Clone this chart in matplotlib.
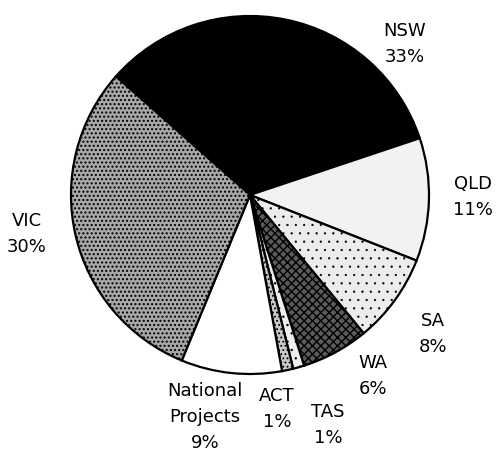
import matplotlib
matplotlib.use("Agg")
from matplotlib import pyplot as plt

# share of funding by state (%), clockwise from the top-left
states = ["NSW", "QLD", "SA", "WA", "TAS", "ACT", "National\nProjects", "VIC"]
shares = [33, 11, 8, 6, 1, 1, 9, 30]

# scanned-print look: fill grey + hatch per wedge
fills = ["black", "#f2f2f2", "#ececec", "#5a5a5a", "#eeeeee", "#c8c8c8", "white", "#a8a8a8"]
hatches = [None, None, "..", "xxxx", "..", "....", None, "...."]
hatch_lw = [1.0, 1.0, 0.4, 1.0, 0.5, 0.8, 1.0, 1.0]

# label anchor points in pixel coords (x from left, y from top)
label_xy = [(405, 44), (473, 197), (433, 334), (373, 376),
            (328, 425), (277, 409), (205, 417), (27, 234)]

W, H = 498, 452
plt.rcParams["hatch.linewidth"] = 1.0
plt.rcParams["hatch.color"] = "black"

fig = plt.figure(figsize=(W / 100, H / 100), dpi=100)
ax = fig.add_axes([0, 0, 1, 1])

wedges, _ = ax.pie(shares, startangle=138.5, counterclock=False,
                   center=(250, H - 196), radius=179,
                   colors=fills,
                   wedgeprops=dict(edgecolor="black", linewidth=1.6))
for w, h, lw in zip(wedges, hatches, hatch_lw):
    if h:
        w.set_hatch(h)
        if hasattr(w, "set_hatch_linewidth"):
            w.set_hatch_linewidth(lw)

for name, pct, (x, y) in zip(states, shares, label_xy):
    ax.text(x, H - y, f"{name}\n{pct}%", ha="center", va="center",
            fontsize=13, linespacing=1.55, family="DejaVu Sans")

ax.set_xlim(0, W)
ax.set_ylim(0, H)
ax.set_aspect("equal")
ax.axis("off")
plt.savefig("out.png", dpi=100)
